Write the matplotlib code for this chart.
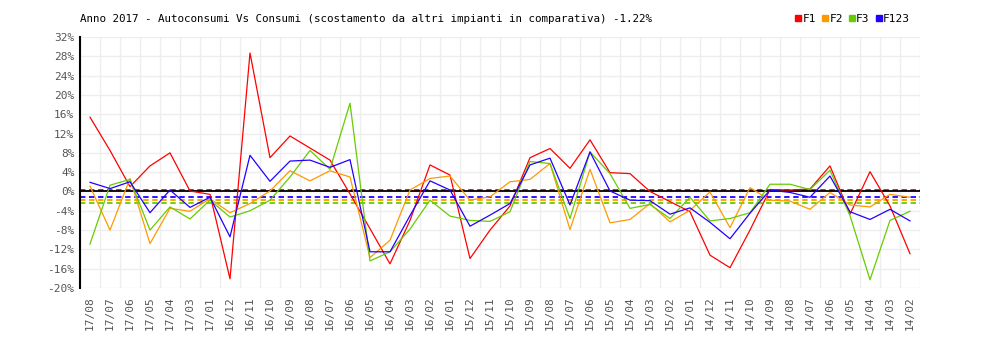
import numpy as np
import matplotlib
matplotlib.use("Agg")
import matplotlib.pyplot as plt
from matplotlib.lines import Line2D

# mesi (dal più recente)
mesi = ["17/08", "17/07", "17/06", "17/05", "17/04", "17/03", "17/01",
        "16/12", "16/11", "16/10", "16/09", "16/08", "16/07", "16/06",
        "16/05", "16/04", "16/03", "16/02", "16/01",
        "15/12", "15/11", "15/10", "15/09", "15/08", "15/07", "15/06",
        "15/05", "15/04", "15/03", "15/02", "15/01",
        "14/12", "14/11", "14/10", "14/09", "14/08", "14/07", "14/06",
        "14/05", "14/04", "14/03", "14/02"]

F1 = [15.4, 8.5, 1.0, 5.3, 8.0, 0.1, -0.6, -18.1, 28.7, 7.0, 11.5, 9.0, 6.5, -0.5,
      -7.7, -15.0, -6.0, 5.5, 3.4, -13.9, -8.0, -3.0, 7.0, 8.9, 4.8, 10.7, 3.9, 3.7,
      0.0, -2.1, -4.2, -13.2, -15.8, -8.0, 0.4, 0.3, 0.5, 5.3, -4.7, 4.1, -3.0, -12.9]
F2 = [1.1, -8.0, 2.7, -10.8, -3.5, -4.1, -1.5, -4.4, -2.5, 0.1, 4.3, 2.2, 4.3, 3.0,
      -13.7, -10.1, 0.3, 2.7, 3.2, -1.8, -1.1, 2.0, 2.5, 5.8, -7.9, 4.6, -6.5, -5.8,
      -2.5, -6.3, -3.9, -0.1, -7.5, 0.8, -1.8, -2.0, -3.7, -0.2, -2.8, -3.2, -0.6, -1.2]
F3 = [-10.9, 1.3, 2.5, -8.0, -3.2, -5.7, -1.8, -5.3, -4.0, -1.8, 3.0, 8.5, 4.6, 18.3,
      -14.4, -12.5, -7.8, -1.8, -5.1, -6.0, -6.2, -4.2, 6.2, 5.8, -5.6, 8.2, 3.7, -3.5,
      -2.7, -5.6, -1.2, -6.1, -5.6, -4.4, 1.5, 1.5, 0.4, 4.4, -5.0, -18.3, -6.0, -4.1]
F123 = [1.9, 0.6, 2.0, -4.4, 0.3, -3.3, -1.2, -9.4, 7.5, 2.1, 6.3, 6.5, 5.0, 6.6,
        -12.5, -12.5, -5.0, 2.2, 0.3, -7.2, -4.9, -2.5, 5.5, 6.9, -2.8, 8.2, 0.1, -1.8,
        -1.9, -4.7, -3.4, -6.4, -9.8, -4.5, 0.3, -0.2, -1.2, 3.2, -4.2, -5.8, -3.7, -6.1]

nomi = ["F1", "F2", "F3", "F123"]
colori = ["#ff0000", "#ff9900", "#66cc00", "#2200ff"]
medie = [0.4, -1.87, -2.3, -1.22]   # linee tratteggiate (media)
titolo = "Anno 2017 - Autoconsumi Vs Consumi (scostamento da altri impianti in comparativa) -1.22%"

font = "DejaVu Sans Mono"
grigio = "#555555"

fig = plt.figure(figsize=(10, 3.4), dpi=100)
ax = fig.add_axes([0.08, 0.153, 0.84, 0.738])

x = np.arange(len(mesi))
serie = [F1, F2, F3, F123]

for m, c in zip(medie, colori):
    ax.axhline(m, color=c, lw=1.3, ls=(0, (3, 2)), zorder=2)
ax.axhline(0, color="black", lw=1.3, zorder=2)

for s, c in zip(serie, colori):
    ax.plot(x, s, color=c, lw=0.9, zorder=3)

ax.set_xlim(-0.5, len(mesi) - 0.5)
ax.set_ylim(-20, 32)
ax.set_yticks(np.arange(-20, 33, 4))
ax.set_yticklabels([f"{v}%" for v in range(-20, 33, 4)])
ax.set_xticks(x)
ax.set_xticklabels(mesi, rotation=90)
ax.set_xticks(np.arange(-0.5, len(mesi)), minor=True)

ax.grid(False)
ax.grid(True, which="minor", axis="x", color="#eeeeee", lw=1, zorder=0)
ax.grid(True, which="major", axis="y", color="#eeeeee", lw=1, zorder=0)
ax.tick_params(axis="x", which="both", length=0, pad=6, labelsize=8, labelcolor=grigio)
ax.tick_params(axis="y", length=0, pad=4, labelsize=8, labelcolor=grigio)
for lab in ax.get_xticklabels() + ax.get_yticklabels():
    lab.set_fontfamily(font)

for sp in ["top", "right", "bottom"]:
    ax.spines[sp].set_visible(False)
ax.spines["left"].set_color("black")
ax.spines["left"].set_linewidth(1.5)

fig.text(0.08, 0.945, titolo, fontsize=7.8, family=font, color="black", va="center")

handles = [Line2D([], [], ls="none", marker="s", markersize=5, color=c) for c in colori]
fig.legend(handles, nomi, loc="center right", bbox_to_anchor=(0.92, 0.945), ncol=4,
           frameon=False, handlelength=0.6, handletextpad=0.1, columnspacing=0.5,
           prop={"family": font, "size": 8})

fig.savefig("out.png", dpi=100)
